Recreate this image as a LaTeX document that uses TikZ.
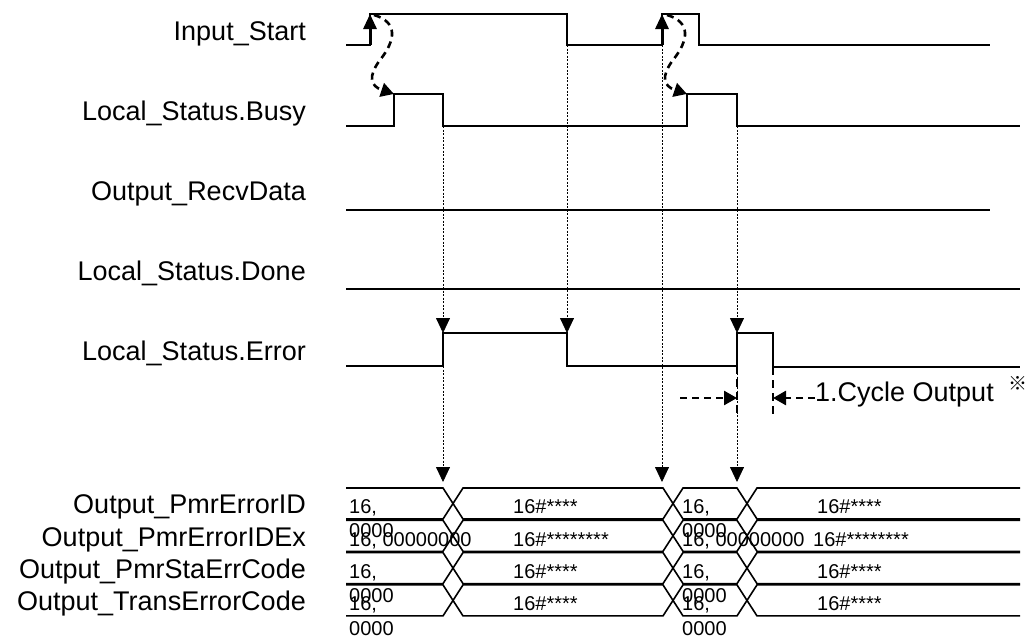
\documentclass[tikz,border=0pt]{standalone}
\usepackage{fontspec}
\setmainfont{Liberation Sans}
\newfontfamily\cjkfont{Noto Sans CJK JP}
\usetikzlibrary{arrows.meta}
\begin{document}
\begin{tikzpicture}[x=1pt,y=-1pt,
  sig/.style={line width=1.8pt, line join=miter},
  bus/.style={line width=1.6pt},
  guide/.style={line width=0.8pt, dash pattern=on 2pt off 1.5pt, -{Triangle[width=14pt,length=15pt]}},
  cause/.style={line width=2.6pt, dash pattern=on 7pt off 5pt, -{Triangle[width=14pt,length=13pt]}},
  cyc/.style={line width=2.6pt, dash pattern=on 8pt off 5pt},
  rise/.style={line width=3pt, -{Triangle[width=13pt,length=15pt]}},
  lbl/.style={anchor=base east, inner sep=0pt, font=\fontsize{27}{30}\selectfont},
  val/.style={anchor=base west, inner sep=0pt, align=left, font=\fontsize{20}{24.5}\selectfont},
]
\useasboundingbox (0,0) rectangle (1028,637);

% labels
\node[lbl] (lIS) at (306,40) {Input\_Start};
\node[lbl] (lBS) at (306,120) {Local\_Status.Busy};
\node[lbl] (lRD) at (306,200) {Output\_RecvData};
\node[lbl] (lDN) at (306,280) {Local\_Status.Done};
\node[lbl] (lER) at (306,360) {Local\_Status.Error};
\node[lbl] (lP1) at (306,513) {Output\_PmrErrorID};
\node[lbl] (lP2) at (306,546.5) {Output\_PmrErrorIDEx};
\node[lbl] (lP3) at (306,578) {Output\_PmrStaErrCode};
\node[lbl] (lP4) at (306,610) {Output\_TransErrorCode};

% key points
\coordinate (s1) at (370,45);  \coordinate (s1h) at (370,14);
\coordinate (s2) at (662,45);  \coordinate (s2h) at (662,14);
\coordinate (sf) at (567,45);
\coordinate (b1) at (394,94);  \coordinate (b2) at (687,94);
\coordinate (bf1) at (443,126); \coordinate (bf2) at (737,126);
\coordinate (e1) at (443,333); \coordinate (e2) at (567,333); \coordinate (e3) at (737,333);
\coordinate (e1l) at (443,366); \coordinate (e3l) at (737,366);
\coordinate (d1) at (443,482); \coordinate (d2) at (662,482); \coordinate (d3) at (737,482);

% guide lines (thin dashed)
\draw[guide] (bf1) -- (e1);
\draw[guide] (sf) -- (e2);
\draw[guide] (bf2) -- (e3);
\draw[guide] (e1l) -- (d1);
\draw[guide] (s2) -- (d2);
\draw[guide] (e3l) -- (d3);

% waveforms
\draw[sig] (346,45) -- (s1) -- (s1h) -- (567,14) -- (sf) -- (s2) -- (s2h) -- (699,14) -- (699,45) -- (990,45);
\draw[sig] (346,126) -- (394,126) -- (b1) -- (443,94) -- (bf1) -- (687,126) -- (b2) -- (737,94) -- (bf2) -- (1020,126);
\draw[sig] (346,210) -- (990,210);
\draw[sig] (346,289) -- (1020,289);
\draw[sig] (346,366) -- (e1l) -- (e1) -- (567,333) -- (567,366) -- (e3l) -- (e3) -- (773,333) -- (773,367) -- (1020,367);

% start -> busy causal arrows
\draw[rise] (s1) -- (s1h);
\draw[rise] (s2) -- (s2h);
\draw[cause] (374,15) .. controls (398,22) and (396,40) .. (380,60) .. controls (368,76) and (370,86) .. (b1);
\draw[cause] (667,15) .. controls (691,22) and (689,40) .. (673,60) .. controls (661,76) and (663,86) .. (b2);

% one-cycle marker
\coordinate (c1) at (737,398); \coordinate (c2) at (773,398);
\draw[cyc] (e3l) -- (737,417);
\draw[cyc] (773,367) -- (773,417);
\draw[cause] (680,398) -- (c1);
\draw[cause] (815,398) -- (c2);
\node[anchor=base west, inner sep=0pt, font=\fontsize{27}{30}\selectfont] (cyctext) at (815,401.5) {1.Cycle Output};
\node[anchor=base west, inner sep=0pt, font=\cjkfont\fontsize{19}{22}\selectfont] (note) at (1008,390) {※};

% buses
\foreach \k in {0,1,2,3}{
  \pgfmathsetmacro{\t}{488+32.3*\k}
  \pgfmathsetmacro{\b}{\t+31}
  \draw[bus] (346,\t) -- (443,\t) -- (463,\b) -- (663,\b) -- (683,\t) -- (737,\t) -- (757,\b) -- (1020,\b);
  \draw[bus] (346,\b) -- (443,\b) -- (463,\t) -- (663,\t) -- (683,\b) -- (737,\b) -- (757,\t) -- (1020,\t);
}

% bus values (two-line values: base anchor sits on the second line)
\node[val] (v11) at (349,537.5) {16,\\0000};
\node[val] (v12) at (513,513) {16\#****};
\node[val] (v13) at (682,537.5) {16,\\0000};
\node[val] (v14) at (817,513) {16\#****};
\node[val] (v21) at (349,546) {16, 00000000};
\node[val] (v22) at (513,546) {16\#********};
\node[val] (v23) at (682,546) {16, 00000000};
\node[val] (v24) at (813,546) {16\#********};
\node[val] (v31) at (349,602.5) {16,\\0000};
\node[val] (v32) at (513,578) {16\#****};
\node[val] (v33) at (682,602.5) {16,\\0000};
\node[val] (v34) at (817,578) {16\#****};
\node[val] (v41) at (349,635) {16,\\0000};
\node[val] (v42) at (513,610) {16\#****};
\node[val] (v43) at (682,635) {16,\\0000};
\node[val] (v44) at (817,610) {16\#****};
\end{tikzpicture}
\end{document}
